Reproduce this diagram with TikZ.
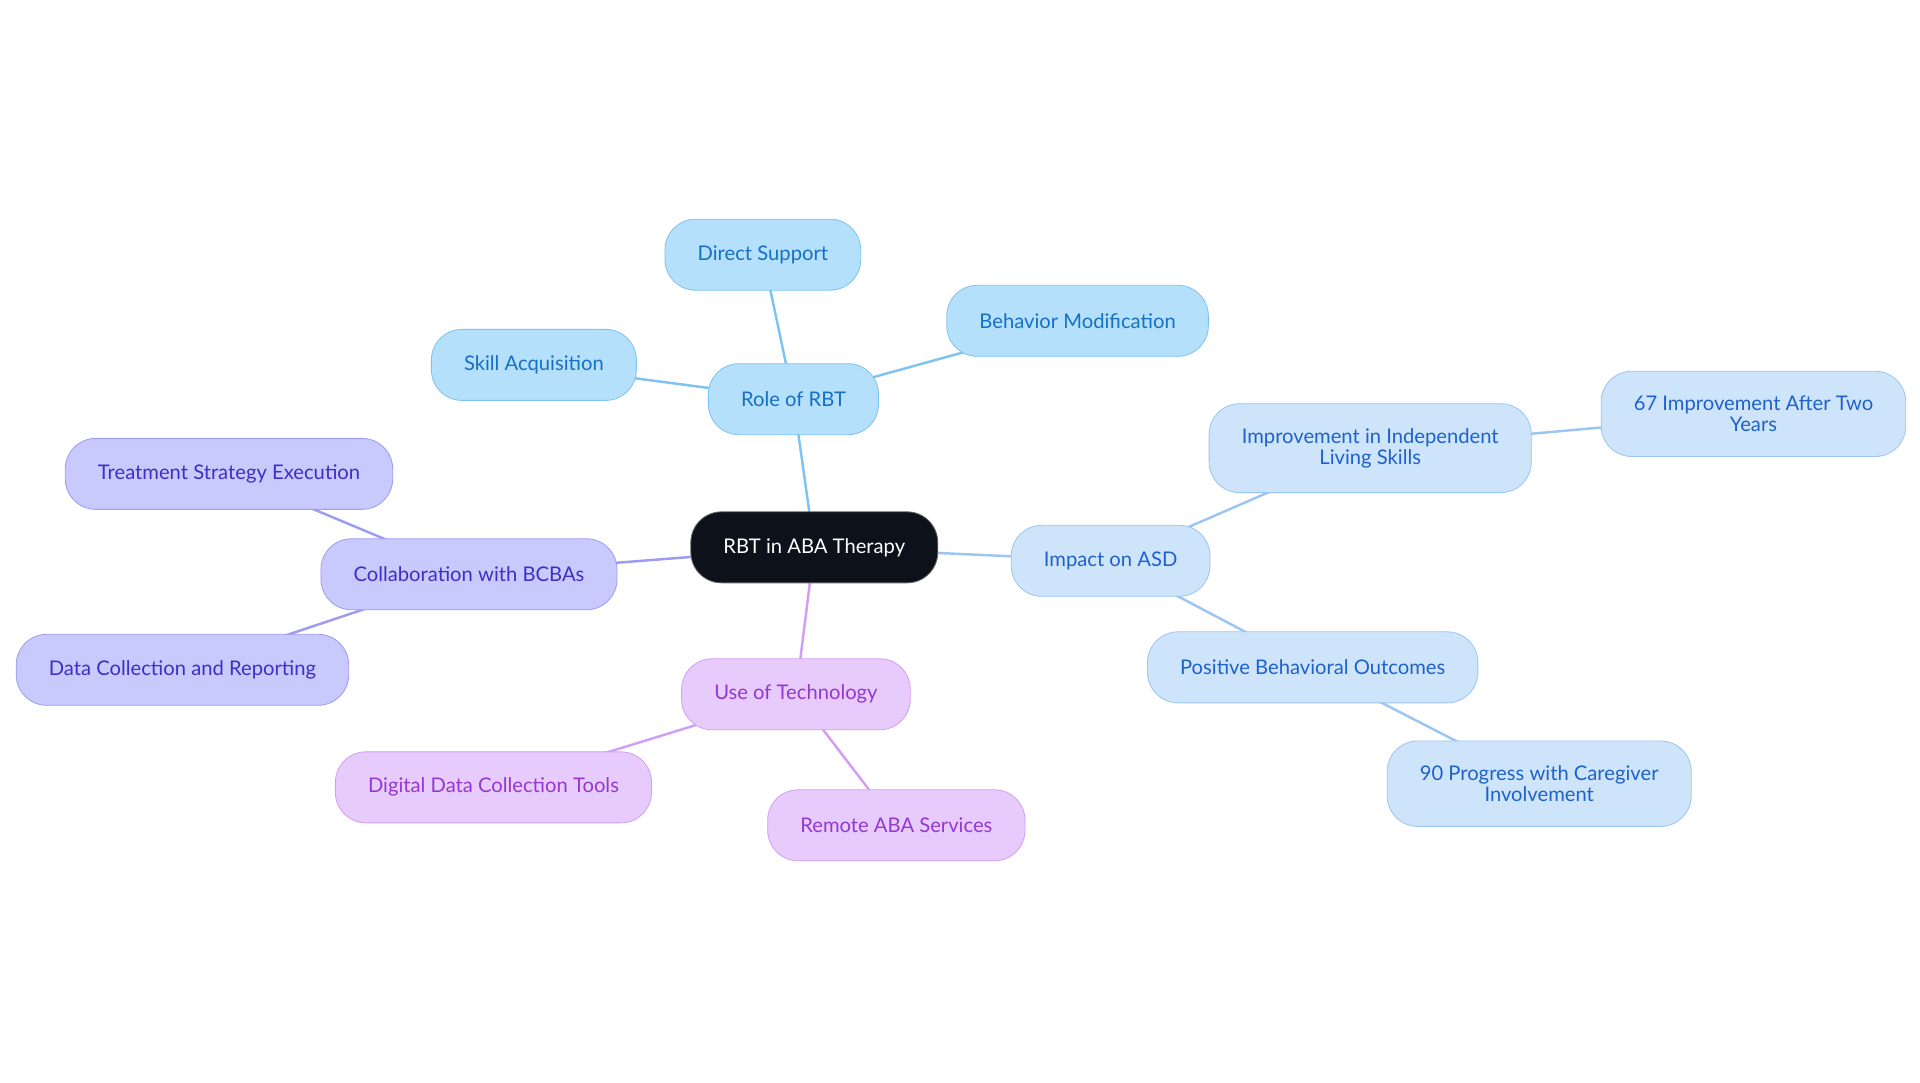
\documentclass[tikz,border=0pt]{standalone}
\usepackage{fontspec}
\setmainfont{Lato}
\usetikzlibrary{positioning}
\usetikzlibrary{backgrounds}
\definecolor{rootfill}{HTML}{0C111A}
\definecolor{rolefill}{HTML}{B4E0FC}
\definecolor{roledraw}{HTML}{7EC3F2}
\definecolor{roletext}{HTML}{1670C4}
\definecolor{asdfill}{HTML}{CDE4FB}
\definecolor{asddraw}{HTML}{9CC5F3}
\definecolor{asdtext}{HTML}{1F62C9}
\definecolor{bcbafill}{HTML}{C8C9FC}
\definecolor{bcbadraw}{HTML}{9B9CF2}
\definecolor{bcbatext}{HTML}{3B30C8}
\definecolor{techfill}{HTML}{E8CBFD}
\definecolor{techdraw}{HTML}{D29EF5}
\definecolor{techtext}{HTML}{9438CF}
\tikzset{x=0.6pt, y=-0.6pt,
every node/.style={ % Sets the properties for each topic
rounded corners=15pt,
minimum height=34.8pt,
inner xsep=16pt,
inner ysep=12pt,
align=center,
font=\fontsize{9.9}{10.5}\selectfont},
rootnode/.style={fill=rootfill, draw=black!60, text=white},
rolenode/.style={fill=rolefill, draw=roledraw, text=roletext},
asdnode/.style={fill=asdfill, draw=asddraw, text=asdtext},
bcbanode/.style={fill=bcbafill, draw=bcbadraw, text=bcbatext},
technode/.style={fill=techfill, draw=techdraw, text=techtext},
link/.style={line width=1.2pt} % Branch lines, drawn center to center behind the nodes
}

\begin{document}
\begin{tikzpicture}
\useasboundingbox (0,0) rectangle (1568,884);
\node[rootnode] (root) at (665,447) {RBT in ABA Therapy};
\node[rolenode] (role) at (648,326) {Role of RBT};
\node[rolenode] (direct) at (623,208) {Direct Support};
\node[rolenode] (behav) at (880,262) {Behavior Modification};
\node[rolenode] (skill) at (436,298) {Skill Acquisition};
\node[asdnode] (impact) at (907,458) {Impact on ASD};
\node[asdnode] (indep) at (1119,366) {Improvement in Independent\\Living Skills};
\node[asdnode] (improv) at (1432,338) {67 Improvement After Two\\Years};
\node[asdnode] (posit) at (1072,545) {Positive Behavioral Outcomes};
\node[asdnode] (progr) at (1257,640) {90 Progress with Caregiver\\Involvement};
\node[bcbanode] (collab) at (383,469) {Collaboration with BCBAs};
\node[bcbanode] (treat) at (187,387) {Treatment Strategy Execution};
\node[bcbanode] (datacol) at (149,547) {Data Collection and Reporting};
\node[technode] (tech) at (650,567) {Use of Technology};
\node[technode] (digital) at (403,643) {Digital Data Collection Tools};
\node[technode] (remote) at (732,674) {Remote ABA Services};
\begin{scope}[on background layer]
\draw[link, roledraw] (root.center) -- (role.center);
\draw[link, roledraw] (role.center) -- (direct.center);
\draw[link, roledraw] (role.center) -- (behav.center);
\draw[link, roledraw] (role.center) -- (skill.center);
\draw[link, asddraw] (root.center) -- (impact.center);
\draw[link, asddraw] (impact.center) -- (indep.center);
\draw[link, asddraw] (indep.center) -- (improv.center);
\draw[link, asddraw] (impact.center) -- (posit.center);
\draw[link, asddraw] (posit.center) -- (progr.center);
\draw[link, bcbadraw] (root.center) -- (collab.center);
\draw[link, bcbadraw] (collab.center) -- (treat.center);
\draw[link, bcbadraw] (collab.center) -- (datacol.center);
\draw[link, techdraw] (root.center) -- (tech.center);
\draw[link, techdraw] (tech.center) -- (digital.center);
\draw[link, techdraw] (tech.center) -- (remote.center);
\end{scope}
\end{tikzpicture}
\end{document}
